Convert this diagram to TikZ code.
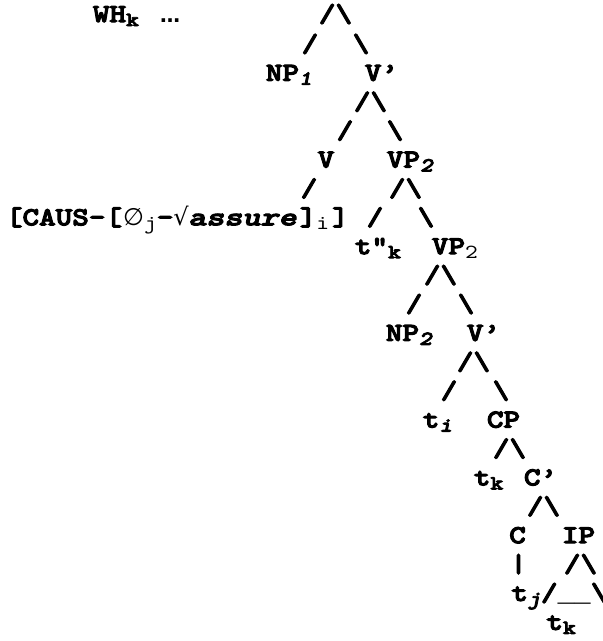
\documentclass[tikz,border=0pt]{standalone}
\usepackage{fontspec}
\newfontfamily\cb[FakeStretch=1.216,FakeBold=4]{lmmonolt10-bold.otf}
\newfontfamily\cbi[FakeStretch=1.216,FakeBold=4]{lmmonolt10-boldoblique.otf}
\newfontfamily\crg[FakeStretch=1.216]{lmmono10-regular.otf}
\newfontfamily\lmo[FakeStretch=1.064]{Liberation Mono}
\newfontfamily\dsym{DejaVu Sans}
\newcommand\subb[1]{\raisebox{-4pt}{\fontsize{20}{20}\cb #1}}
\newcommand\subi[1]{\raisebox{-4pt}{\fontsize{20}{20}\cbi #1}}
\newcommand\subr[1]{\raisebox{-4pt}{\fontsize{20}{20}\crg #1}}
\begin{document}
\begin{tikzpicture}[x=1pt,y=-1pt,
  tx/.style={inner sep=0pt, anchor=base west, font=\fontsize{26}{26}\cb},
  tc/.style={tx, anchor=base}]
\useasboundingbox (0,0) rectangle (603,641);
% row 0
\node[tx] (wh) at (92.7,22) {WH\subb{k}};
\node[tc, font=\fontsize{20}{20}\dsym\bfseries] (dots) at (170,22) {…};
\node[tx] (s0) at (318.7,22) {/\textbackslash};
% row 1
\node[tc] (s1a) at (310,51.9) {/};
\node[tc] (s1b) at (361,51.9) {\textbackslash};
% row 2
\node[tx] (np1) at (265.7,80.8) {NP\subi{1}};
\node[tx] (vbar1) at (364.7,80.8) {V’};
% row 3
\node[tx] (s3) at (353.7,109.7) {/\textbackslash};
% row 4
\node[tc] (s4a) at (345,138.6) {/};
\node[tc] (s4b) at (395,138.6) {\textbackslash};
% row 5
\node[tc] (v) at (326,167.5) {V};
\node[tx] (vp2a) at (386.7,167.5) {VP\subi{2}};
% row 6
\node[tc] (s6a) at (309,196.4) {/};
\node[tx] (s6b) at (388.7,196.4) {/\textbackslash};
% row 7
\node[tx] (caus) at (5.7,225.3) {[CAUS-[};
\node[tx] (zero) at (123,225.3) {{\fontsize{24}{24}\dsym ∅}\subr{j}-{\fontsize{24}{24}\dsym √}};
\node[tx, font=\fontsize{26}{26}\cbi] (assure) at (188,225.3) {\scalebox{1.09}[1]{assure}};
\node[tx] (rb) at (299.7,225.3) {]\subr{i}\kern3pt]};
\node[tc] (s7a) at (375,225.3) {/};
\node[tc] (s7b) at (426,225.3) {\textbackslash};
% row 8
\node[tx] (tk3) at (354.7,254.2) {t"\subb{k}};
\node[tx] (vp2b) at (431.7,254.2) {VP\subr{2}};
% row 9
\node[tx] (s9) at (423.7,283.1) {/\textbackslash};
% row 10
\node[tc] (s10a) at (414,312) {/};
\node[tc] (s10b) at (466,312) {\textbackslash};
% row 11
\node[tx] (np2) at (385.7,340.9) {NP\subi{2}};
\node[tx] (vbar2) at (466.7,340.9) {V’};
% row 12
\node[tx] (s12) at (456.7,369.8) {/\textbackslash};
% row 13
\node[tc] (s13a) at (449,398.7) {/};
\node[tc] (s13b) at (501,398.7) {\textbackslash};
% row 14
\node[tx] (ti) at (422.7,427.6) {t\subi{i}};
\node[tx] (cp) at (486.7,427.6) {CP};
% row 15
\node[tx] (s15) at (492.7,456.5) {/\textbackslash};
% row 16
\node[tx] (tk1) at (473.7,485.4) {t\subb{k}};
\node[tx] (cbar) at (523.7,485.4) {C’};
% row 17
\node[tx] (s17) at (526.7,514.3) {/\textbackslash};
% row 18
\node[tc] (c) at (517.5,543.2) {C};
\node[tx] (ip) at (561.7,543.2) {IP};
% row 19
\node[tc] (bar) at (518.5,572.1) {|};
\node[tx] (s19) at (563.7,572.1) {/\textbackslash};
% row 20
\node[tx] (tj) at (511.2,601) {t\subi{j}};
\node[tx] (tri) at (540.8,601) {/{\lmo\bfseries\_\_}\textbackslash};
% row 21
\node[tx] (tk2) at (546.2,629.9) {t\subb{k}};
\end{tikzpicture}
\end{document}
